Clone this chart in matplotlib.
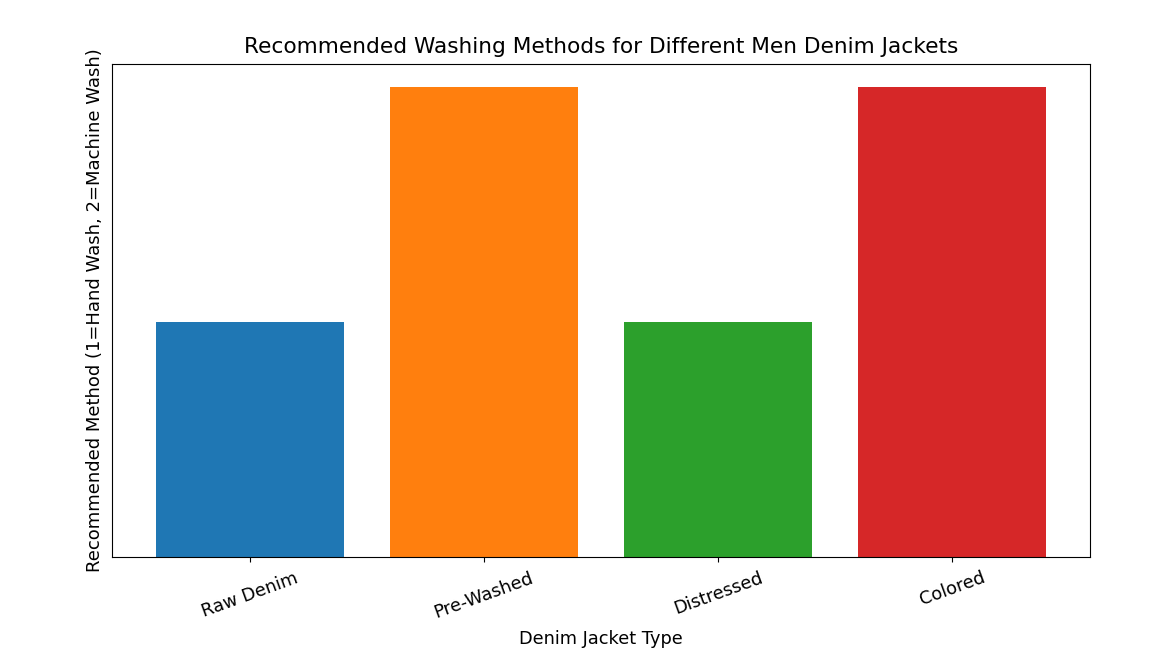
import matplotlib
matplotlib.use("Agg")
import matplotlib.pyplot as plt

categories = ["Raw Denim", "Pre-Washed", "Distressed", "Colored"]
methods = [1, 2, 1, 2]
colors = ["#1f77b4", "#ff7f0e", "#2ca02c", "#d62728"]

fig = plt.figure(figsize=(11.53, 6.71), dpi=100)
ax = fig.add_axes([112/1153, 1-557/671, (1090-112)/1153, (557-64)/671])
ax.bar(categories, methods, color=colors)
ax.set_title("Recommended Washing Methods for Different Men Denim Jackets", fontsize=15.6, pad=8)
ax.set_xlabel("Denim Jacket Type", fontsize=12.8, labelpad=6)
ax.set_ylabel("Recommended Method (1=Hand Wash, 2=Machine Wash)", fontsize=13, labelpad=6)
ax.set_yticks([])
ax.tick_params(axis="x", pad=5)
plt.setp(ax.get_xticklabels(), rotation=20, fontsize=12.8)
fig.savefig("out.png", dpi=100)
